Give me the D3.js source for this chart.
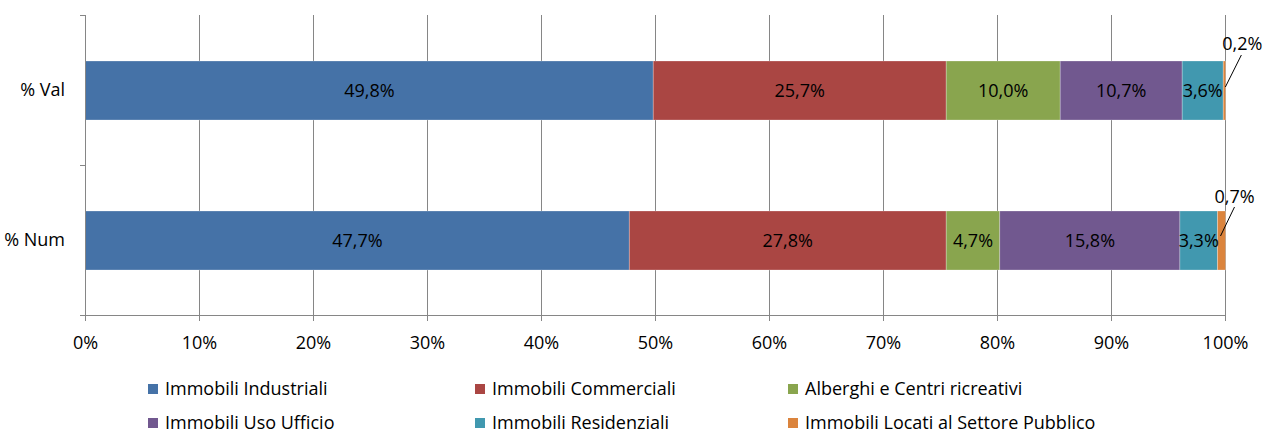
<!DOCTYPE html>
<html><head><meta charset="utf-8">
<script src="https://cdn.jsdelivr.net/npm/d3@7"></script>
<style>body{margin:0;background:#fff}svg{display:block}text{font-family:"Open Sans",sans-serif;fill:#000}</style>
</head><body><svg id="c" width="1264" height="435"></svg>
<script>
const categories = ["% Val", "% Num"];
const seriesNames = ["Immobili Industriali","Immobili Commerciali","Alberghi e Centri ricreativi","Immobili Uso Ufficio","Immobili Residenziali","Immobili Locati al Settore Pubblico"];
const valValues = [49.8, 25.7, 10.0, 10.7, 3.6, 0.2];
const numValues = [47.7, 27.8, 4.7, 15.8, 3.3, 0.7];
const xTicks = [0,10,20,30,40,50,60,70,80,90,100];
const colors = ["#4572A7","#AA4643","#89A54E","#71588F","#4198AF","#DB843D"];

const svg = d3.select("#c");
const fs = 18;
const x = d3.scaleLinear().domain([0,100]).range([85.5,1225.5]);
const band = d3.scaleBand().domain(categories).range([15,315]);

svg.append("g").selectAll("line").data(xTicks.slice(1)).join("line")
  .attr("x1",d=>x(d)).attr("x2",d=>x(d)).attr("y1",15).attr("y2",315)
  .attr("stroke","#868686").attr("stroke-width",1).attr("shape-rendering","crispEdges");

const rows = [valValues, numValues];
const data = [];
rows.forEach((vals,ri)=>{
  let acc=0;
  vals.forEach((v,si)=>{ data.push({cat:categories[ri],si,v,x0:acc,x1:acc+v}); acc+=v; });
});
svg.append("g").selectAll("rect").data(data).join("rect")
  .attr("x",d=>x(d.x0)).attr("width",d=>x(d.x1)-x(d.x0))
  .attr("y",d=>band(d.cat)+46).attr("height",59)
  .attr("fill",d=>colors[d.si]).attr("stroke","#ffffff").attr("stroke-opacity",0.35).attr("stroke-width",0.75);

const fmt = v => v.toFixed(1).replace(".",",")+"%";
svg.append("g").selectAll("text").data(data.filter(d=>d.v>=1)).join("text")
  .attr("x",d=>x((d.x0+d.x1)/2)).attr("y",d=>band(d.cat)+75.5).attr("dy","0.35em")
  .attr("text-anchor","middle").attr("font-size",fs).text(d=>fmt(d.v));
const small = data.filter(d=>d.v<1);
const sg = svg.append("g");
small.forEach(d=>{
  const b = band(d.cat);
  const xm = x((d.x0+d.x1)/2);
  const isTop = d.cat===categories[0];
  sg.append("line").attr("x1",xm+ (isTop?1:-1)).attr("y1",b+(isTop?72:71)).attr("x2",xm+(isTop?17:13)).attr("y2",b+(isTop?40:42))
    .attr("stroke","#000").attr("stroke-width",1);
  sg.append("text").attr("x",xm+(isTop?18:13)).attr("y",b+(isTop?35:38)).attr("text-anchor","middle")
    .attr("font-size",fs).text(fmt(d.v));
});

svg.append("line").attr("x1",80).attr("x2",1225.5).attr("y1",315.5).attr("y2",315.5).attr("stroke","#868686");
svg.append("g").selectAll("line").data(xTicks).join("line")
  .attr("x1",d=>x(d)).attr("x2",d=>x(d)).attr("y1",315).attr("y2",321).attr("stroke","#868686").attr("shape-rendering","crispEdges");
svg.append("g").selectAll("text").data(xTicks).join("text")
  .attr("x",d=>x(d)).attr("y",349).attr("text-anchor","middle").attr("font-size",fs).text(d=>d+"%");
svg.append("line").attr("x1",85.5).attr("x2",85.5).attr("y1",15).attr("y2",315).attr("stroke","#868686");
svg.append("g").selectAll("line").data([15,165,315]).join("line")
  .attr("x1",80).attr("x2",85.5).attr("y1",d=>d+0.5).attr("y2",d=>d+0.5).attr("stroke","#868686");
svg.append("g").selectAll("text").data(categories).join("text")
  .attr("x",65).attr("y",d=>band(d)+band.bandwidth()/2).attr("dy","0.35em").attr("text-anchor","end").attr("font-size",fs).text(d=>d);

const lx = [148,475,788], ly=[384,418];
const lg = svg.append("g").selectAll("g").data(seriesNames).join("g")
  .attr("transform",(d,i)=>`translate(${lx[i%3]},${ly[Math.floor(i/3)]})`);
lg.append("rect").attr("width",10).attr("height",10).attr("fill",(d,i)=>colors[i]);
lg.append("text").attr("x",17).attr("y",5).attr("dy","0.33em").attr("font-size",fs).text(d=>d);
</script></body></html>
